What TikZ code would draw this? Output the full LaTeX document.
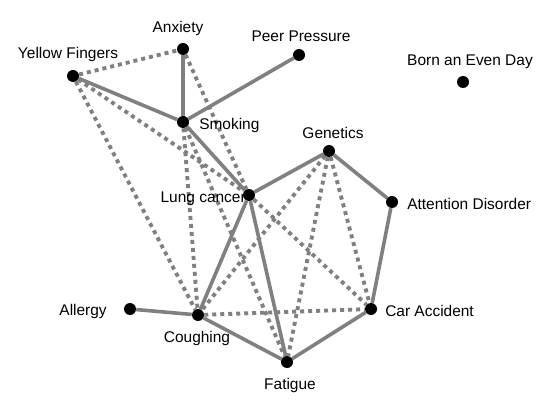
\documentclass[tikz,border=0pt]{standalone}
\usepackage{fontspec}
\setmainfont{Liberation Sans}
\usetikzlibrary{backgrounds}
\begin{document}
\begin{tikzpicture}[x=0.75pt, y=-0.75pt, font=\fontsize{11.6}{13}\selectfont,
          var/.style={circle, fill=black, inner sep=0pt, minimum size=9pt},
          txt/.style={inner sep=0pt, yshift=-1.5pt},
          link/.style={draw=gray, line width=2.7pt},
          spur/.style={draw=gray, line width=2.9pt, dash pattern=on 3pt off 3pt}]
        \useasboundingbox (0,0) rectangle (560,420);
        % variables
        \node[var] (anx) at (183,49) {};
        \node[var] (peer) at (299,55) {};
        \node[var] (yel) at (73,76) {};
        \node[var] (born) at (463,82) {};
        \node[var] (smk) at (183,122) {};
        \node[var] (gen) at (329,151) {};
        \node[var] (lung) at (249,195) {};
        \node[var] (att) at (392,202) {};
        \node[var] (all) at (130,309) {};
        \node[var] (cgh) at (198,315) {};
        \node[var] (car) at (371,309) {};
        \node[var] (fat) at (287,362) {};
        % names
        \node[txt] (anxT) at (178,27) {Anxiety};
        \node[txt] (peerT) at (301,34) {Peer Pressure};
        \node[txt] (yelT) at (68,53) {Yellow Fingers};
        \node[txt] (bornT) at (470,60) {Born an Even Day};
        \node[txt, anchor=west] (smkT) at (199,124) {Smoking};
        \node[txt] (genT) at (333,131) {Genetics};
        \node[txt, anchor=east] (lungT) at (246,197) {Lung cancer};
        \node[txt, anchor=west] (attT) at (407,202) {Attention Disorder};
        \node[txt, anchor=east] (allT) at (107,309) {Allergy};
        \node[txt] (cghT) at (197,337) {Coughing};
        \node[txt, anchor=west] (carT) at (385,309) {Car Accident};
        \node[txt] (fatT) at (290,383) {Fatigue};
        \begin{scope}[on background layer]
          % causal links
          \draw[link] (anx) -- (smk);
          \draw[link] (peer) -- (smk);
          \draw[link] (yel) -- (smk);
          \draw[link] (smk) -- (lung);
          \draw[link] (gen) -- (lung);
          \draw[link] (gen) -- (att);
          \draw[link] (att) -- (car);
          \draw[link] (lung) -- (cgh);
          \draw[link] (lung) -- (fat);
          \draw[link] (all) -- (cgh);
          \draw[link] (cgh) -- (fat);
          \draw[link] (fat) -- (car);
          % spurious links
          \draw[spur] (yel) -- (anx);
          \draw[spur] (yel) -- (lung);
          \draw[spur] (yel) -- (cgh);
          \draw[spur] (anx) -- (lung);
          \draw[spur] (smk) -- (cgh);
          \draw[spur] (smk) -- (fat);
          \draw[spur] (gen) -- (cgh);
          \draw[spur] (gen) -- (fat);
          \draw[spur] (gen) -- (car);
          \draw[spur] (lung) -- (car);
          \draw[spur] (cgh) -- (car);
        \end{scope}
      \end{tikzpicture}
\end{document}
